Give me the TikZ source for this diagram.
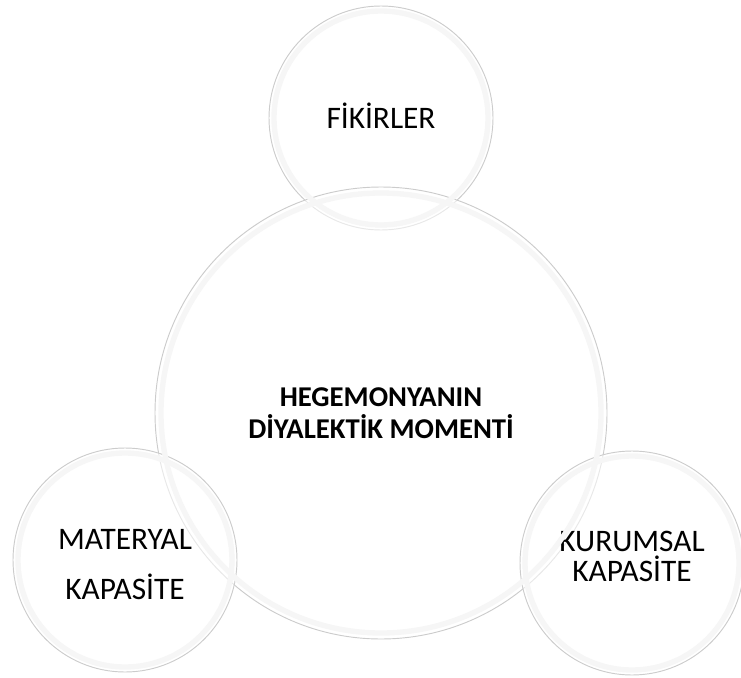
\documentclass[tikz,border=0pt]{standalone}
\usepackage{fontspec}
\setmainfont{Carlito}
\begin{document}
\begin{tikzpicture}[x=0.75pt, y=-0.75pt]
\tikzset{bulle/.style={draw=gray!40, line width=0.7pt, circle, fill=white, fill opacity=0.55, text opacity=1, inner sep=0pt, align=center},
  kucuk/.style={bulle, minimum size=168pt},
  halka/.style={draw=gray!7, line width=4pt}}
\useasboundingbox (0, 0) rectangle (741, 677);
\node[kucuk, font=\fontsize{23.5}{28}\selectfont, text depth=4pt] (fikir) at (381, 118) {FİKİRLER};
\node[bulle, minimum size=339pt, font=\bfseries\fontsize{21.5}{23.6}\selectfont] (moment) at (381, 413) {HEGEMONYANIN\\DİYALEKTİK MOMENTİ};
\node[kucuk, font=\fontsize{23.5}{37.5}\selectfont, text height=60pt] (materyal) at (125, 560) {MATERYAL\\KAPASİTE};
\node[kucuk, font=\fontsize{23.5}{22.5}\selectfont, text depth=10pt] (kurum) at (632, 563) {KURUMSAL\\KAPASİTE};
\foreach \n/\r in {fikir/107, moment/220, materyal/107, kurum/107}
  \draw[halka] (\n) circle[radius=\r];
\end{tikzpicture}
\end{document}
